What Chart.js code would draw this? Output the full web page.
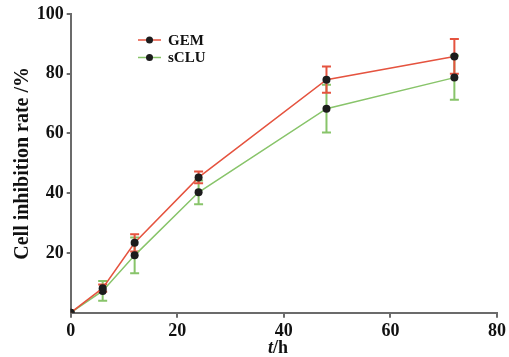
<!DOCTYPE html>
<html>
<head>
<meta charset="utf-8">
<script src="https://cdn.jsdelivr.net/npm/chart.js@4.4.1/dist/chart.umd.min.js"></script>
<style>
  html, body { margin: 0; padding: 0; background: #fff; }
  #wrap { width: 509px; height: 357px; position: relative; }
</style>
</head>
<body>
<div id="wrap"><canvas id="grafica"></canvas></div>
<script>
// Datos
const tiempos = [0, 6, 12, 24, 48, 72];
const gemValores = [0, 8.2, 23.4, 45.3, 78.0, 85.8];
const gemError = [0, 1.2, 2.9, 2.0, 4.4, 5.8];
const scluValores = [0, 7.3, 19.2, 40.3, 68.3, 78.7];
const scluError = [0, 3.3, 6.0, 4.0, 8.0, 7.4];
const ticksX = [0, 20, 40, 60, 80];
const ticksY = [20, 40, 60, 80, 100];

const ROJO = '#e5533f';
const VERDE = '#88c46a';
const EJE = '#6b6b6b';
const FUENTE = '"Liberation Serif", "DejaVu Serif", serif';

function puntos(valores) {
    return tiempos.map((t, i) => ({ x: t, y: valores[i] }));
}

// Barras de error dibujadas con las escalas del grafico
const barrasError = {
    id: 'barrasError',
    beforeDatasetsDraw(chart) {
        const ctx = chart.ctx;
        const sx = chart.scales.x;
        const sy = chart.scales.y;
        ctx.save();
        for (let d = chart.data.datasets.length - 1; d >= 0; d--) {
            const ds = chart.data.datasets[d];
            ctx.strokeStyle = ds.borderColor;
            ctx.lineWidth = 2;
            ds.data.forEach((p, i) => {
                const e = ds.errores[i];
                if (!e) return;
                const x = sx.getPixelForValue(p.x);
                const y1 = sy.getPixelForValue(p.y + e);
                const y2 = sy.getPixelForValue(p.y - e);
                ctx.beginPath();
                ctx.moveTo(x, y1); ctx.lineTo(x, y2);
                ctx.moveTo(x - 4.5, y1); ctx.lineTo(x + 4.5, y1);
                ctx.moveTo(x - 4.5, y2); ctx.lineTo(x + 4.5, y2);
                ctx.stroke();
            });
        }
        ctx.restore();
    }
};

// Leyenda dentro del area del grafico y titulo del eje x (t en cursiva)
const leyenda = {
    id: 'leyenda',
    afterDraw(chart) {
        const ctx = chart.ctx;
        ctx.save();
        chart.data.datasets.forEach((ds, i) => {
            const y = 40 + i * 17.5;
            ctx.strokeStyle = ds.borderColor;
            ctx.lineWidth = 1.5;
            ctx.beginPath();
            ctx.moveTo(138, y); ctx.lineTo(161, y);
            ctx.stroke();
            ctx.fillStyle = '#1c1c1c';
            ctx.beginPath();
            ctx.arc(149.5, y, 3.5, 0, Math.PI * 2);
            ctx.fill();
            ctx.font = 'bold 15px ' + FUENTE;
            ctx.textBaseline = 'middle';
            ctx.fillStyle = '#111';
            ctx.fillText(ds.label, 168, y + 1);
        });

        ctx.fillStyle = '#111';
        ctx.textBaseline = 'alphabetic';
        ctx.font = 'italic bold 18px ' + FUENTE;
        const w1 = ctx.measureText('t').width;
        ctx.font = 'bold 18px ' + FUENTE;
        const w2 = ctx.measureText('/h').width;
        const x0 = 278 - (w1 + w2) / 2;
        ctx.font = 'italic bold 18px ' + FUENTE;
        ctx.fillText('t', x0, 353);
        ctx.font = 'bold 18px ' + FUENTE;
        ctx.fillText('/h', x0 + w1, 353);
        ctx.restore();
    }
};

function serie(label, valores, errores, color) {
    return {
        label: label,
        data: puntos(valores),
        errores: errores,
        borderColor: color,
        backgroundColor: color,
        borderWidth: 1.5,
        pointRadius: 4,
        pointBackgroundColor: '#1c1c1c',
        pointBorderColor: '#1c1c1c',
        pointBorderWidth: 0,
        tension: 0
    };
}

new Chart(document.getElementById('grafica'), {
    type: 'line',
    data: {
        datasets: [
            serie('GEM', gemValores, gemError, ROJO),
            serie('sCLU', scluValores, scluError, VERDE)
        ]
    },
    options: {
        responsive: true,
        maintainAspectRatio: false,
        animation: false,
        layout: { padding: { top: 14, right: 12, left: 11, bottom: 0 } },
        plugins: {
            legend: { display: false },
            tooltip: { enabled: false }
        },
        scales: {
            x: {
                type: 'linear',
                min: 0,
                max: 80,
                afterBuildTicks: axis => { axis.ticks = ticksX.map(v => ({ value: v })); },
                afterFit: axis => { axis.height = 44.3; },
                grid: { drawOnChartArea: false, color: EJE, lineWidth: 2, tickLength: 5 },
                border: { color: EJE, width: 2 },
                ticks: {
                    color: '#111',
                    padding: 3,
                    font: { family: FUENTE, size: 18, weight: 'bold' }
                }
            },
            y: {
                min: 0,
                max: 100,
                afterBuildTicks: axis => { axis.ticks = ticksY.map(v => ({ value: v })); },
                afterFit: axis => { axis.width = 59.7; },
                grid: { drawOnChartArea: false, color: EJE, lineWidth: 2, tickLength: 4 },
                border: { color: EJE, width: 2 },
                ticks: {
                    color: '#111',
                    padding: 3,
                    font: { family: FUENTE, size: 18, weight: 'bold' }
                },
                title: {
                    display: true,
                    text: 'Cell inhibition rate /%',
                    color: '#111',
                    padding: { top: 0, bottom: 4 },
                    font: { family: FUENTE, size: 20, weight: 'bold' }
                }
            }
        }
    },
    plugins: [barrasError, leyenda]
});
</script>
</body>
</html>
